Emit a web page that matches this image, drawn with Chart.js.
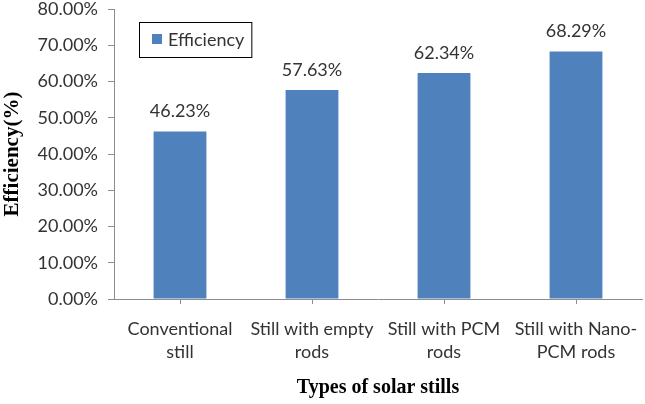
<!DOCTYPE html>
<html>
<head>
<meta charset="utf-8">
<script src="https://cdn.jsdelivr.net/npm/chart.js@4/dist/chart.umd.min.js"></script>
<style>
  html, body { margin: 0; padding: 0; background: #fff; }
  #wrap { width: 645px; height: 404px; position: relative; }
</style>
</head>
<body>
<div id="wrap"><canvas id="myChart"></canvas></div>
<script>
/***** data *****/
var categories = [["Conventional", "still"], ["Still with empty", "rods"], ["Still with PCM", "rods"], ["Still with Nano-", "PCM rods"]];
var efficiency = [46.23, 57.63, 62.34, 68.29];
var seriesName = "Efficiency";
var yTicks = [0, 10, 20, 30, 40, 50, 60, 70, 80];

var BLUE = '#4F81BD';
var TEXT = '#333333';
var AXIS = '#8c8c8c';
var labelFont = "Lato, 'Open Sans', sans-serif";

// value labels above the bars
var valueLabels = {
    id: 'valueLabels',
    afterDatasetsDraw: function(chart) {
        var ctx = chart.ctx;
        var meta = chart.getDatasetMeta(0);
        ctx.save();
        ctx.font = '18px ' + labelFont;
        ctx.fillStyle = TEXT;
        ctx.textAlign = 'center';
        ctx.textBaseline = 'middle';
        meta.data.forEach(function(bar, i) {
            ctx.fillText(efficiency[i].toFixed(2) + '%', bar.x, bar.y - 20);
        });
        ctx.restore();
    }
};

// boxed legend in the top left of the plot
var boxLegend = {
    id: 'boxLegend',
    afterDraw: function(chart) {
        var ctx = chart.ctx;
        var ds = chart.data.datasets[0];
        var x = chart.chartArea.left + 25;
        var y = chart.chartArea.top + 13;
        ctx.save();
        ctx.font = '18px ' + labelFont;
        var w = ctx.measureText(ds.label).width + 36;
        ctx.strokeStyle = '#000';
        ctx.lineWidth = 1;
        ctx.strokeRect(x + 0.5, y + 0.5, w, 35);
        ctx.fillStyle = ds.backgroundColor;
        ctx.fillRect(x + 13, y + 12, 10, 10);
        ctx.fillStyle = TEXT;
        ctx.textBaseline = 'middle';
        ctx.fillText(ds.label, x + 29, y + 18);
        ctx.restore();
    }
};

var myChart = new Chart(document.getElementById('myChart'), {
    type: 'bar',
    data: {
        labels: categories,
        datasets: [{
            label: seriesName,
            data: efficiency,
            backgroundColor: BLUE,
            borderWidth: 0,
            barPercentage: 0.4,
            categoryPercentage: 1.0
        }]
    },
    options: {
        responsive: true,
        maintainAspectRatio: false,
        animation: false,
        layout: { padding: { left: 0, top: 9, right: 3, bottom: 0 } },
        plugins: {
            legend: { display: false },
            tooltip: { enabled: false }
        },
        scales: {
            x: {
                offset: true,
                grid: { offset: false, drawOnChartArea: false, drawTicks: true, tickLength: 5, color: AXIS },
                border: { color: AXIS, width: 1 },
                ticks: { color: TEXT, padding: 14, maxRotation: 0, autoSkip: false, font: { family: labelFont, size: 18, lineHeight: 1.25 } },
                title: { display: true, text: 'Types of solar stills', color: '#000', padding: { top: 6, bottom: 4 },
                         font: { family: "'Liberation Serif', 'Times New Roman', serif", size: 20, weight: 'bold' } },
                afterFit: function(s) { s.height = 105; s.paddingLeft = 0; s.paddingRight = 0; }
            },
            y: {
                min: 0,
                max: 80,
                afterBuildTicks: function(s) { s.ticks = yTicks.map(function(v) { return { value: v }; }); },
                grid: { drawOnChartArea: false, drawTicks: true, tickLength: 6, color: AXIS },
                border: { color: AXIS, width: 1 },
                ticks: { color: TEXT, padding: 10, font: { family: labelFont, size: 18 },
                         callback: function(v) { return v.toFixed(2) + '%'; } },
                title: { display: true, text: 'Efficiency(%)', color: '#000', padding: { top: 0, bottom: 0 },
                         font: { family: "'Liberation Serif', 'Times New Roman', serif", size: 21, weight: 'bold' } },
                afterFit: function(s) { s.width = 114; s.paddingTop = 0; s.paddingBottom = 0; }
            }
        }
    },
    plugins: [valueLabels, boxLegend]
});
</script>
</body>
</html>
